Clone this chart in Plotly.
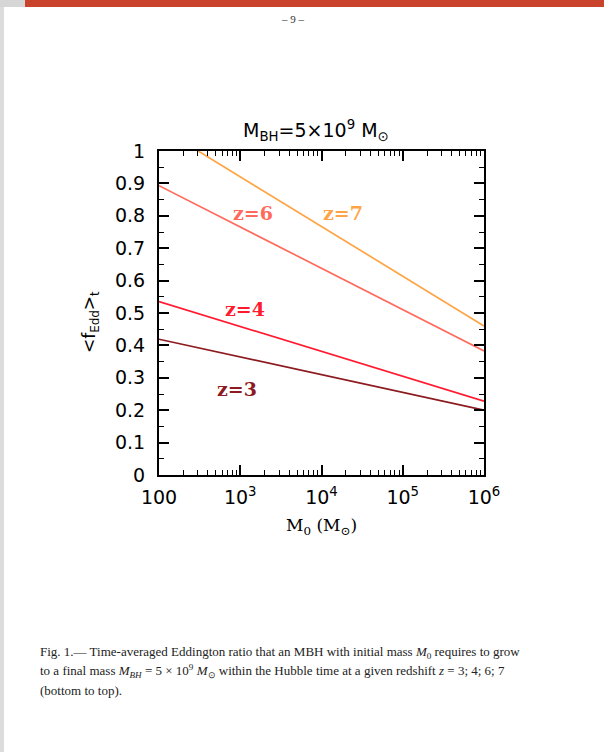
import math
import plotly.graph_objects as go

# initial mass M0 (Msun) at the two ends of the plotted range
m0 = [100, 1e6]

# time-averaged Eddington ratio, one list per redshift
f_z3 = [0.419, 0.200]
f_z4 = [0.535, 0.228]
f_z6 = [0.893, 0.383]
f_z7 = [1.074, 0.460]

redshifts = ["z=3", "z=4", "z=6", "z=7"]
series = [f_z3, f_z4, f_z6, f_z7]
colors = ["#8c1a1e", "#ff1a30", "#ff6a5c", "#ffa444"]

# where each redshift label sits (data coords)
label_x = [912, 1148, 1436, 18400]
label_y = [0.265, 0.512, 0.81, 0.81]

x_tick_vals = [100, 1e3, 1e4, 1e5, 1e6]
x_tick_text = ["100", "10<sup>3</sup>", "10<sup>4</sup>", "10<sup>5</sup>", "10<sup>6</sup>"]
y_tick_vals = [0, 0.1, 0.2, 0.3, 0.4, 0.5, 0.6, 0.7, 0.8, 0.9, 1]
y_tick_text = ["0", "0.1", "0.2", "0.3", "0.4", "0.5", "0.6", "0.7", "0.8", "0.9", "1"]

W, H = 604, 752
L, R, T, B = 159, 484, 151, 475


def px(x):
    return (x - L) / (R - L)


def py(y):
    return (B - y) / (B - T)


def note(x, y, text, **kw):
    kw.setdefault("xanchor", "center")
    fig.add_annotation(x=px(x), y=py(y), xref="paper", yref="paper", showarrow=False,
                       yanchor="middle", text=text, **kw)


fig = go.Figure()
for name, vals, col in zip(redshifts, series, colors):
    fig.add_trace(go.Scatter(x=m0, y=vals, mode="lines", name=name,
                             line=dict(color=col, width=1.7), cliponaxis=True))

# log axis: annotation x goes in as log10
for name, x, y, col in zip(redshifts, label_x, label_y, colors):
    fig.add_annotation(x=math.log10(x), y=y, xref="x", yref="y", text="<b>%s</b>" % name,
                       showarrow=False, xanchor="center", yanchor="middle",
                       font=dict(family="DejaVu Serif", size=19, color=col))

sans = "DejaVu Sans"
note(316, 131, "M<sub>BH</sub>=5×10<sup>9</sup> M<sub>⊙</sub>",
     font=dict(family=sans, size=19, color="black"))
note(321, 526, "M<sub>0</sub> (M<sub>⊙</sub>)",
     font=dict(family="DejaVu Serif", size=17, color="black"))
note(90, 322, "<f<sub>Edd</sub>><sub>t</sub>", textangle=-90,
     font=dict(family=sans, size=17, color="black"))

# page furniture
note(293, 19, "– 9 –", font=dict(family="Liberation Serif", size=11, color="#333"))
caption = [
    "Fig. 1.— Time-averaged Eddington ratio that an MBH with initial mass <i>M</i><sub>0</sub> requires to grow",
    "to a final mass <i>M<sub>BH</sub></i> = 5 × 10<sup>9</sup> <i>M</i><sub>⊙</sub> within the Hubble time at a given redshift <i>z</i> = 3; 4; 6; 7",
    "(bottom to top).",
]
for i, line in enumerate(caption):
    note(38, 652 + 19 * i, line, xanchor="left",
         font=dict(family="Liberation Serif", size=13, color="#222"))

fig.add_shape(type="rect", xref="paper", yref="paper", x0=px(0), x1=px(W), y0=py(0), y1=py(7),
              fillcolor="#c9432c", line_width=0, layer="below")
fig.add_shape(type="rect", xref="paper", yref="paper", x0=px(0), x1=px(4), y0=py(7), y1=py(H),
              fillcolor="#dcdcdc", line_width=0, layer="below")
fig.add_shape(type="rect", xref="paper", yref="paper", x0=px(0), x1=px(25), y0=py(0), y1=py(7),
              fillcolor="#d6d6d6", line_width=0, layer="below")

axis_common = dict(showgrid=False, zeroline=False, showline=True, linecolor="black",
                   linewidth=2, mirror="ticks", ticks="inside", ticklen=10, tickwidth=1.5,
                   tickcolor="black", tickfont=dict(family=sans, size=19, color="black"))
fig.update_xaxes(type="log", range=[2, 6], tickvals=x_tick_vals, ticktext=x_tick_text,
                 ticklabelstandoff=4,
                 minor=dict(ticks="inside", ticklen=5, tickwidth=1, tickcolor="black",
                            dtick="D1", showgrid=False),
                 **axis_common)
fig.update_yaxes(range=[0, 1], tickvals=y_tick_vals, ticktext=y_tick_text,
                 ticklabelstandoff=8,
                 minor=dict(ticks="inside", ticklen=5, tickwidth=1, tickcolor="black",
                            dtick=0.05, showgrid=False),
                 **axis_common)

fig.update_layout(width=W, height=H, showlegend=False,
                  margin=dict(l=L, r=W - R, t=T, b=H - B),
                  paper_bgcolor="white", plot_bgcolor="white")

fig.write_html("out.html", config={"displayModeBar": False},
               post_script="document.body.style.margin='0';")
